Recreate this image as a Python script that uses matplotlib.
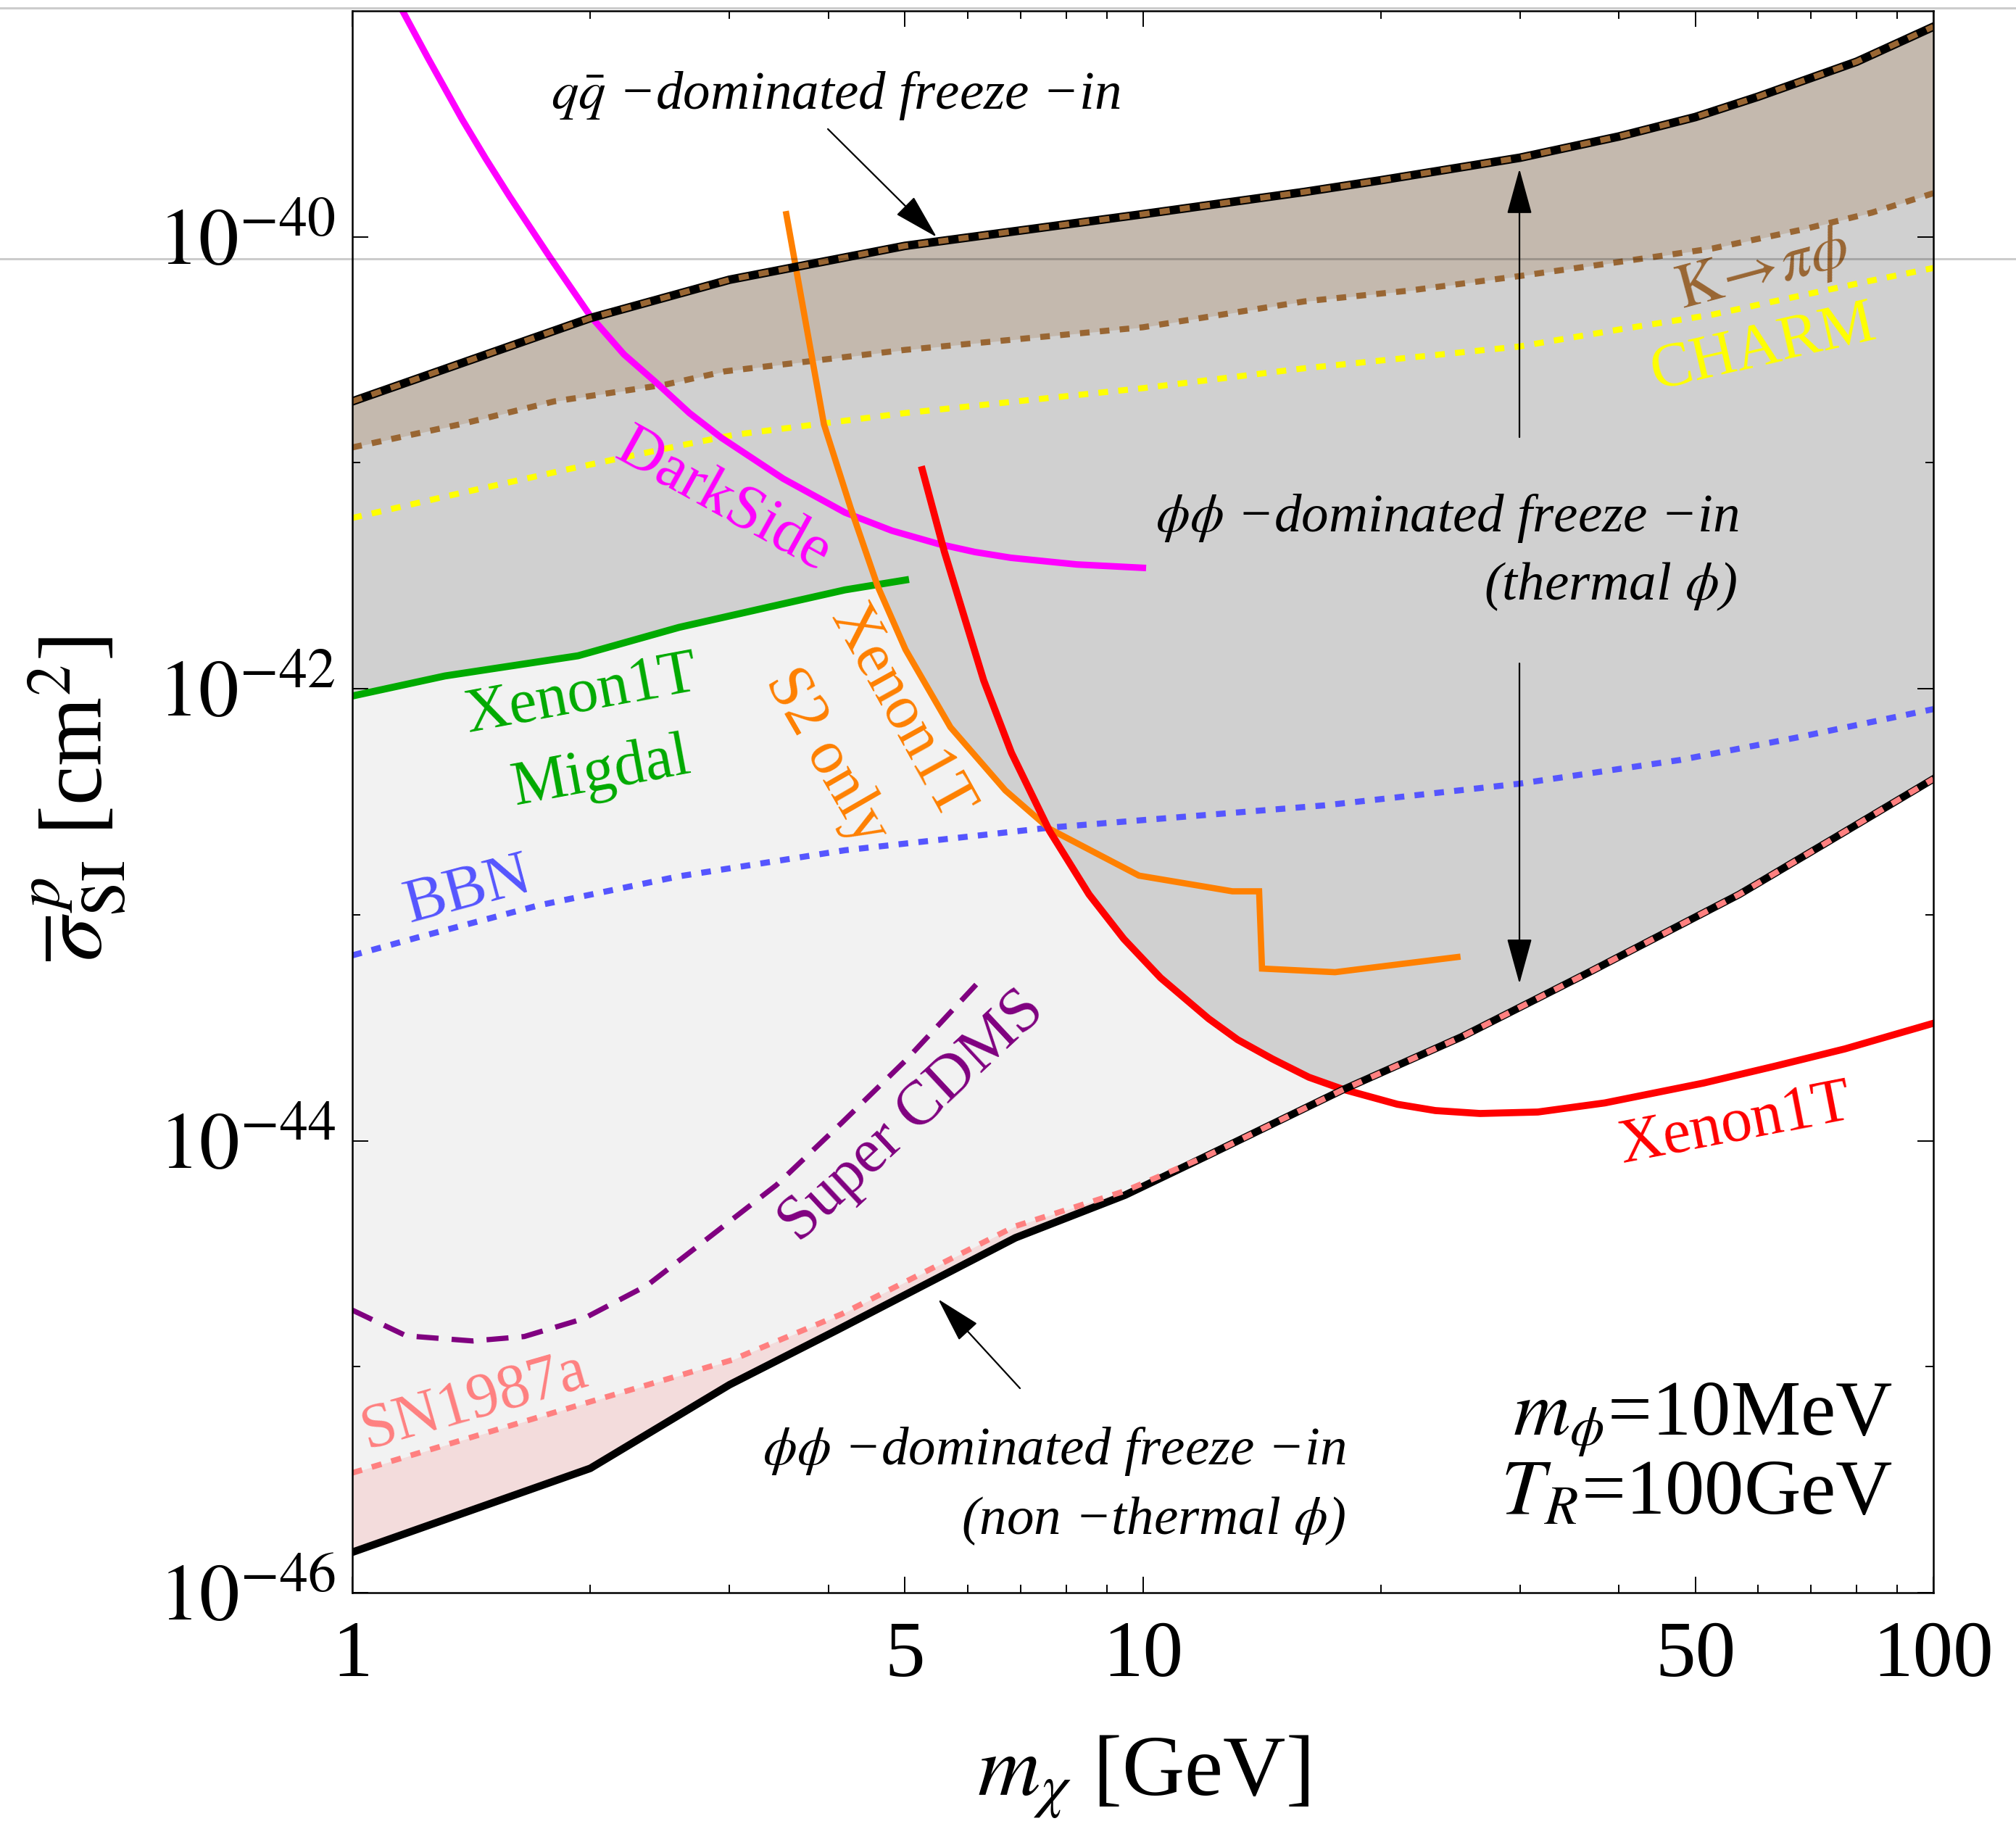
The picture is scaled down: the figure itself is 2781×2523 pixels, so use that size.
import numpy as np
import matplotlib
matplotlib.use("Agg")
import matplotlib.pyplot as plt
from matplotlib.lines import Line2D
from matplotlib.ticker import FixedLocator, FixedFormatter, NullFormatter

plt.rcParams['font.family'] = ['Liberation Serif', 'DejaVu Serif']
plt.rcParams['mathtext.fontset'] = 'stix'

# ---------------- curves: m_chi [GeV] vs sigma_SI^p [cm^2] ----------------
# upper edge of the band (q qbar dominated freeze-in)
qq_x = [1, 2, 3, 5, 10, 16, 20, 30, 40, 50, 60, 80, 100]
qq_y = [1.87e-41, 4.37e-41, 6.46e-41, 9.12e-41, 1.26e-40, 1.58e-40, 1.78e-40,
        2.24e-40, 2.78e-40, 3.39e-40, 4.17e-40, 5.96e-40, 8.51e-40]

# lower edge (phi phi dominated freeze-in, non-thermal phi)
nt_x = [1, 2, 3, 4.1, 6.9, 9.5, 12, 17.9, 25.3, 36.7, 56.8, 73.5, 100]
nt_y = [1.51e-46, 3.55e-46, 8.32e-46, 1.45e-45, 3.72e-45, 5.75e-45, 8.51e-45,
        1.68e-44, 2.88e-44, 5.57e-44, 1.23e-43, 2.10e-43, 3.99e-43]

# SN1987a bound
sn_x = [1, 2.03, 3.02, 4.16, 6.89, 9.5, 12, 17.9, 25.3, 36.7, 56.8, 73.5, 100]
sn_y = [3.39e-46, 7.11e-46, 1.07e-45, 1.71e-45, 4.18e-45, 6.0e-45, 8.51e-45,
        1.68e-44, 2.88e-44, 5.57e-44, 1.23e-43, 2.10e-43, 3.99e-43]

# K -> pi phi
kpi_x = [1, 1.38, 1.8, 2.49, 2.96, 5, 10, 16, 21.7, 29.9, 40.4, 52.6, 68.5, 83.6, 100]
kpi_y = [1.17e-41, 1.49e-41, 1.87e-41, 2.22e-41, 2.54e-41, 3.16e-41, 3.98e-41,
         5.18e-41, 5.78e-41, 6.70e-41, 7.78e-41, 8.89e-41, 1.08e-40, 1.28e-40, 1.56e-40]

# CHARM
charm_x = [1, 1.355, 1.87, 2.59, 3.04, 5, 10, 16, 29.9, 40.4, 52.6, 68.5, 83.6, 100]
charm_y = [5.70e-42, 7.28e-42, 9.35e-42, 1.19e-41, 1.33e-41, 1.66e-41, 2.14e-41,
           2.62e-41, 3.27e-41, 3.91e-41, 4.53e-41, 5.53e-41, 6.41e-41, 7.28e-41]

# BBN
bbn_x = [1, 1.21, 1.72, 2.59, 4.2, 7.62, 10.5, 17, 29.9, 47.8, 67.4, 100]
bbn_y = [6.61e-44, 7.94e-44, 1.10e-43, 1.48e-43, 1.93e-43, 2.43e-43, 2.66e-43,
         3.05e-43, 3.80e-43, 4.84e-43, 6.10e-43, 8.13e-43]

# DarkSide
ds_x = [1.13, 1.247, 1.377, 1.476, 1.581, 1.778, 2.0, 2.206, 2.432, 2.67, 2.931,
        3.508, 4.198, 4.814, 5.521, 6.132, 6.808, 8.25, 10.0]
ds_y = [1.17e-39, 6.17e-40, 3.31e-40, 2.21e-40, 1.51e-40, 8.13e-41, 4.47e-41,
        3.02e-41, 2.24e-41, 1.66e-41, 1.29e-41, 8.51e-42, 6.03e-42, 5.01e-42,
        4.37e-42, 4.03e-42, 3.80e-42, 3.55e-42, 3.43e-42]

# Xenon1T Migdal
mig_x = [1, 1.31, 1.93, 2.59, 3.29, 4.2, 5.01]
mig_y = [9.29e-43, 1.14e-42, 1.40e-42, 1.87e-42, 2.26e-42, 2.74e-42, 3.03e-42]

# Xenon1T S2 only
s2_x = [3.54, 3.95, 4.27, 4.62, 5.01, 5.71, 6.70, 7.62, 9.89, 12.98, 14.03, 14.15, 17.5, 25.0]
s2_y = [1.26e-40, 1.48e-41, 6.31e-42, 2.84e-42, 1.49e-42, 6.76e-43, 3.55e-43,
        2.40e-43, 1.49e-43, 1.27e-43, 1.27e-43, 5.78e-44, 5.57e-44, 6.50e-44]

# Xenon1T
xe_x = [5.26, 5.61, 6.29, 6.82, 7.62, 8.55, 9.46, 10.53, 12.11, 13.18, 14.59, 16.22,
        17.9, 20.99, 23.44, 26.7, 31.6, 38.4, 51.2, 63.1, 77.3, 100]
xe_y = [9.33e-42, 4.04e-42, 1.09e-42, 5.21e-43, 2.35e-43, 1.23e-43, 7.82e-44,
        5.26e-44, 3.47e-44, 2.80e-44, 2.30e-44, 1.91e-44, 1.69e-44, 1.45e-44,
        1.36e-44, 1.32e-44, 1.34e-44, 1.47e-44, 1.80e-44, 2.14e-44, 2.55e-44, 3.31e-44]

# SuperCDMS projection
cdms_x = [1.0, 1.17, 1.42, 1.65, 1.96, 2.36, 2.85, 3.44, 4.16, 5.02, 6.29]
cdms_y = [1.78e-45, 1.37e-45, 1.30e-45, 1.36e-45, 1.63e-45, 2.29e-45, 3.82e-45,
          6.37e-45, 1.20e-44, 2.28e-44, 5.33e-44]

x_major = [1, 5, 10, 50, 100]
x_major_labels = ["1", "5", "10", "50", "100"]
x_minor = [2, 3, 4, 6, 7, 8, 9, 20, 30, 40, 60, 70, 80, 90]
y_major = [1e-46, 1e-44, 1e-42, 1e-40]
y_major_labels = [r"$10^{-46}$", r"$10^{-44}$", r"$10^{-42}$", r"$10^{-40}$"]
y_minor = [1e-45, 1e-43, 1e-41]

# colours
C_MAG, C_RED, C_ORA, C_GRN = "#ff00ff", "#ff0000", "#ff8000", "#00aa00"
C_BLU, C_YEL, C_BRN, C_PNK, C_PUR = "#5555ff", "#ffff00", "#996633", "#ff8080", "#800080"
F_LIGHT, F_DARK, F_BRN, F_PNK = "#f2f2f2", "#d0d0d0", "#c4b9ae", "#f3dcdc"

fig = plt.figure(figsize=(27.81, 25.23), dpi=100)
ax = fig.add_axes([0.17476, 0.12921, 0.78425, 0.86484])
ax.set_xscale('log')
ax.set_yscale('log')
ax.set_xlim(1, 100)
ax.set_ylim(1e-46, 1e-39)

# ---- shaded regions, boundaries evaluated on a common log grid ----
lx = np.linspace(0, 2, 1201)
xg = 10 ** lx


def on_grid(xs, ys):
    return 10 ** np.interp(lx, np.log10(xs), np.log10(ys), left=np.nan, right=np.nan)


up_g = on_grid(qq_x, qq_y)
nt_g = on_grid(nt_x, nt_y)
sn_g = on_grid(sn_x, sn_y)
kpi_g = on_grid(kpi_x, kpi_y)
excl = np.nanmin(np.vstack([on_grid(mig_x, mig_y), on_grid(s2_x, s2_y),
                            on_grid(xe_x, xe_y)]), axis=0)
dark_low = np.maximum(excl, sn_g)

ax.fill_between(xg, sn_g, up_g, color=F_LIGHT, lw=0, zorder=1)
ax.fill_between(xg, nt_g, sn_g, color=F_PNK, lw=0, zorder=1)
ax.fill_between(xg, dark_low, up_g, where=dark_low < up_g, interpolate=True,
                color=F_DARK, lw=0, zorder=1.1)
ax.fill_between(xg, kpi_g, up_g, color=F_BRN, lw=0, zorder=1.2)

# ---- limit curves ----
dot = dict(lw=6.0, dashes=(1.6, 1.7), dash_capstyle='butt', zorder=3)
ax.plot(kpi_x, kpi_y, color=C_BRN, **dot)
ax.plot(charm_x, charm_y, color=C_YEL, **dot)
ax.plot(bbn_x, bbn_y, color=C_BLU, **dot)

ax.plot(ds_x, ds_y, color=C_MAG, lw=6.5, zorder=3)
ax.plot(mig_x, mig_y, color=C_GRN, lw=7.0, zorder=3)
ax.plot(s2_x, s2_y, color=C_ORA, lw=6.2, zorder=3, solid_joinstyle='miter')
ax.plot(xe_x, xe_y, color=C_RED, lw=7.0, zorder=3)
ax.plot(cdms_x, cdms_y, color=C_PUR, lw=5.2, dashes=(4.2, 2.5), zorder=3)

ax.plot(qq_x, qq_y, color='black', lw=8.5, zorder=4, solid_joinstyle='round')
ax.plot(qq_x, qq_y, color=C_BRN, lw=5.6, dashes=(1.8, 1.8), dash_capstyle='butt', zorder=4.1)
ax.plot(nt_x, nt_y, color='black', lw=7.5, zorder=4, solid_joinstyle='round')
ax.plot(sn_x, sn_y, color=C_PNK, lw=5.6, dashes=(1.8, 1.8), dash_capstyle='butt', zorder=4.1)

# ---- axes styling ----
ax.xaxis.set_major_locator(FixedLocator(x_major))
ax.xaxis.set_major_formatter(FixedFormatter(x_major_labels))
ax.xaxis.set_minor_locator(FixedLocator(x_minor))
ax.xaxis.set_minor_formatter(NullFormatter())
ax.yaxis.set_major_locator(FixedLocator(y_major))
ax.yaxis.set_major_formatter(FixedFormatter(y_major_labels))
ax.yaxis.set_minor_locator(FixedLocator(y_minor))
ax.yaxis.set_minor_formatter(NullFormatter())
ax.tick_params(which='both', direction='in', top=True, right=True, width=1.4, color='black')
ax.tick_params(which='major', length=16)
ax.tick_params(which='minor', length=8)
ax.tick_params(axis='x', which='major', labelsize=80, pad=28)
ax.tick_params(axis='y', which='major', labelsize=80, pad=17)
for s in ax.spines.values():
    s.set_linewidth(1.8)
    s.set_zorder(6)

ax.set_xlabel(r"$m_{\chi}$ [GeV]", fontsize=86, va='baseline')
ax.xaxis.set_label_coords(0.5, -0.128)
ax.set_ylabel(r"$\overline{\sigma}^{\,p}_{\mathrm{SI}}$ [cm$^2$]", fontsize=88,
              va='center', ha='center')
ax.yaxis.set_label_coords(-0.1738, 0.502)

# ---- curve labels ----
def lab(s, fx, fy, rot, color, size=62):
    ax.text(fx, fy, s, transform=ax.transAxes, rotation=rot, rotation_mode='anchor',
            ha='center', va='center', color=color, fontsize=size, zorder=5)


lab(r"$\mathrm{K}\!\rightarrow\!\pi\phi$", 0.8923, 0.8354, 15, C_BRN)
lab("CHARM", 0.8923, 0.7864, 13, C_YEL)
lab("DarkSide", 0.2343, 0.6897, -29, C_MAG)
lab("Xenon1T", 0.1449, 0.5669, 10.5, C_GRN)
lab("Migdal", 0.1573, 0.5179, 10.5, C_GRN)
lab("Xenon1T", 0.3466, 0.5564, -61, C_ORA)
lab("S2 only", 0.2999, 0.5284, -60, C_ORA)
lab("BBN", 0.0734, 0.4432, 15, C_BLU)
lab("Super CDMS", 0.3544, 0.3006, 43, C_PUR)
lab("SN1987a", 0.0770, 0.1205, 16, C_PNK)
lab("Xenon1T", 0.8744, 0.2951, 11, C_RED)

# ---- annotations ----
ita = dict(transform=ax.transAxes, fontsize=54, fontstyle='italic', color='black',
           va='baseline', zorder=5)
ax.text(0.3058, 0.938, r"$q\bar{q}$ −dominated freeze −in", ha='center', **ita)
ax.text(0.8767, 0.6709, r"$\phi\phi$ −dominated freeze −in", ha='right', **ita)
ax.text(0.8758, 0.6279, r"(thermal $\phi$)", ha='right', **ita)
ax.text(0.6282, 0.0811, r"$\phi\phi$ −dominated freeze −in", ha='right', **ita)
ax.text(0.6282, 0.0371, r"(non −thermal $\phi$)", ha='right', **ita)

ax.text(0.9743, 0.0994, r"$m_{\phi}$=10MeV", transform=ax.transAxes, ha='right',
        va='baseline', fontsize=78, zorder=5)
ax.text(0.9743, 0.0495, r"$T_{R}$=100GeV", transform=ax.transAxes, ha='right',
        va='baseline', fontsize=78, zorder=5)

arrow = dict(arrowstyle="-|>,head_length=0.4,head_width=0.11", color='black', lw=1.6,
             mutation_scale=100, shrinkA=0, shrinkB=0)
for tail, tip in [((0.3008, 0.9253), (0.3696, 0.857)),
                  ((0.7382, 0.7305), (0.7382, 0.9001)),
                  ((0.7382, 0.5875), (0.7382, 0.385)),
                  ((0.4223, 0.1292), (0.3705, 0.1856))]:
    ax.annotate("", xy=tip, xytext=tail, xycoords='axes fraction',
                textcoords='axes fraction', arrowprops=arrow, zorder=5)

# thin horizontal rules across the sheet
for yf in (1 - 11 / 2523, 1 - 357 / 2523):
    fig.add_artist(Line2D([0, 1], [yf, yf], transform=fig.transFigure,
                          color='black', alpha=0.2, lw=2.2, zorder=10))

fig.savefig("out.png", dpi=100)
